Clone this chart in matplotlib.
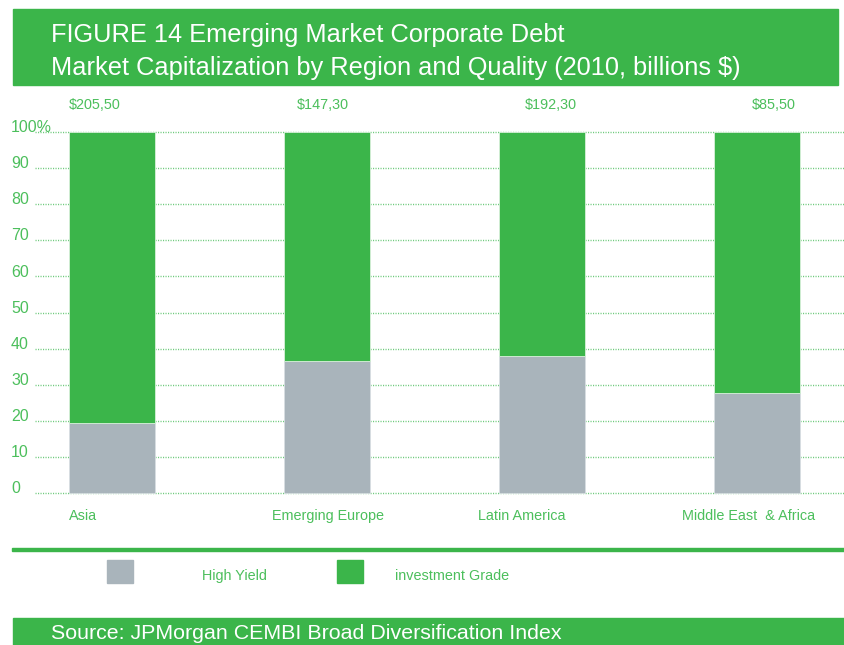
import matplotlib.pyplot as plt
from matplotlib.patches import Rectangle
from matplotlib import transforms

plt.rcParams['font.family'] = ['Liberation Sans', 'DejaVu Sans']

# data
regions = ["Asia", "Emerging Europe", "Latin America", "Middle East  & Africa"]
high_yield = [19.5, 36.6, 38.0, 27.7]
investment_grade = [100 - v for v in high_yield]
totals = ["$205,50", "$147,30", "$192,30", "$85,50"]
yticks = [0, 10, 20, 30, 40, 50, 60, 70, 80, 90, 100]
ytick_labels = ["0", "10", "20", "30", "40", "50", "60", "70", "80", "90", "100%"]

GREEN = "#3bb54a"
GREY = "#a9b4bb"
TXT = "#4cbf5c"
W, H = 844, 645

fig = plt.figure(figsize=(W / 100, H / 100), dpi=100)
fig.patch.set_facecolor("white")

def fx(px):
    return px / W

def fy(py):
    return 1 - py / H

# header and footer bands
fig.patches.append(Rectangle((fx(13), fy(85)), fx(838) - fx(13), fy(9) - fy(85),
                             transform=fig.transFigure, color=GREEN, zorder=0))
fig.patches.append(Rectangle((fx(13), 0), fx(844) - fx(13), fy(618),
                             transform=fig.transFigure, color=GREEN, zorder=0))
fig.patches.append(Rectangle((fx(12), fy(551)), 1 - fx(12), fy(548) - fy(551),
                             transform=fig.transFigure, color=GREEN, zorder=0))

fig.text(fx(51), fy(42), "FIGURE 14 Emerging Market Corporate Debt", color="white",
         fontsize=18.3, va="baseline", ha="left")
fig.text(fx(51), fy(75), "Market Capitalization by Region and Quality (2010, billions $)",
         color="white", fontsize=18.3, va="baseline", ha="left")
fig.text(fx(51), fy(639), "Source: JPMorgan CEMBI Broad Diversification Index",
         color="white", fontsize=15.4, va="baseline", ha="left")

# plot area: y from -1 to 101, 0 at 493px and 100 at 132px
ax = fig.add_axes([fx(35), fy(496.6), 1 - fx(35), fy(128.4) - fy(496.6)])
ax.set_xlim(-0.358, (W - 112) / 215)
ax.set_ylim(-1, 101)
ax.axis("off")

for t in yticks:
    ax.axhline(t, color="#6fcb7d", lw=1.0, ls=(0, (0.8, 1.0)), zorder=0)

x = list(range(len(regions)))
ax.bar(x, high_yield, width=0.4, color=GREY, edgecolor="#d8dee2", linewidth=0.6, zorder=2)
ax.bar(x, investment_grade, bottom=high_yield, width=0.4, color=GREEN,
       edgecolor="#d8f0da", linewidth=0.6, zorder=2)

# y tick labels at the left edge
tr = transforms.blended_transform_factory(fig.transFigure, ax.transData)
for t, lab in zip(yticks, ytick_labels):
    ax.text(fx(11), t + 1.2, lab, transform=tr, color=TXT, fontsize=11.5,
            ha="left", va="center", clip_on=False)

# totals above bars and region names below
total_offsets = [-0.08, -0.02, 0.04, 0.08]
name_offsets = [-0.135, 0.007, -0.093, -0.037]
for i in x:
    ax.text(i + total_offsets[i], 107.5, totals[i], color=TXT, fontsize=10.4,
            ha="center", va="center", clip_on=False)
    ax.text(i + name_offsets[i], -6.5, regions[i], color=TXT, fontsize=10.4,
            ha="center", va="center", clip_on=False)

# legend
fig.patches.append(Rectangle((fx(107), fy(583)), fx(26), fy(560) - fy(583),
                             transform=fig.transFigure, color=GREY))
fig.patches.append(Rectangle((fx(337), fy(583)), fx(26), fy(560) - fy(583),
                             transform=fig.transFigure, color=GREEN))
fig.text(fx(202), fy(576), "High Yield", color=TXT, fontsize=10.4, ha="left", va="center")
fig.text(fx(395), fy(576), "investment Grade", color=TXT, fontsize=10.4, ha="left", va="center")

fig.savefig("out.png", dpi=100)
